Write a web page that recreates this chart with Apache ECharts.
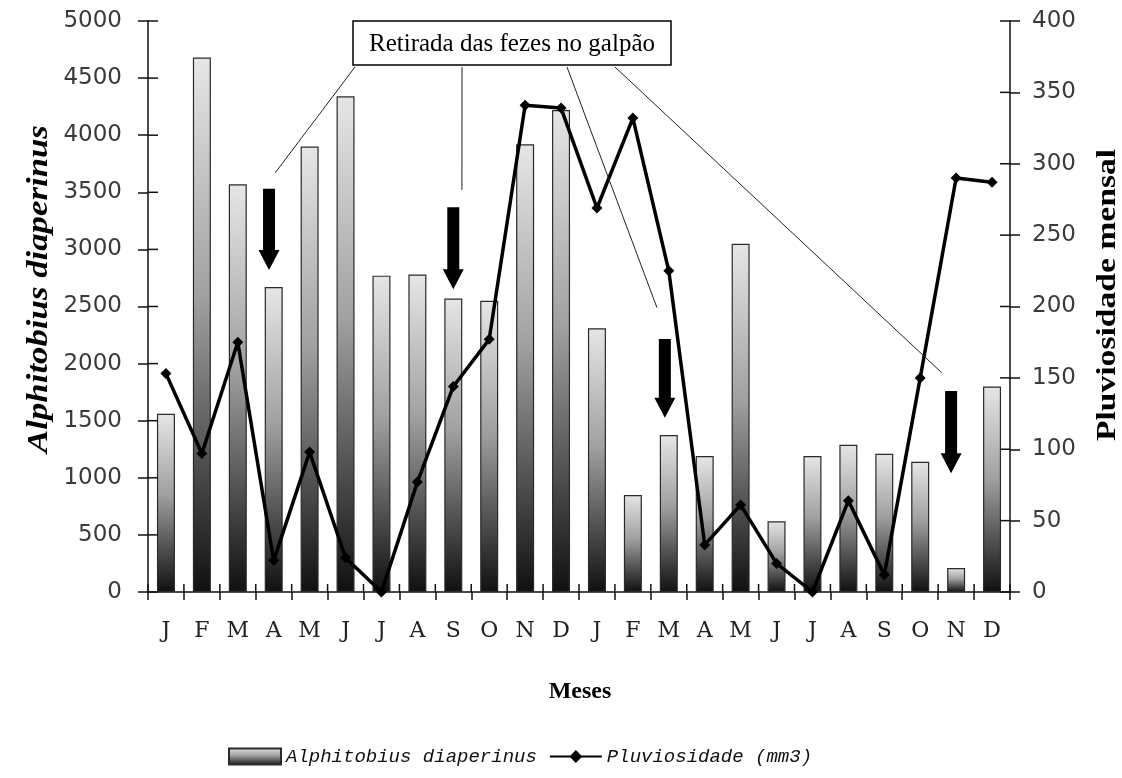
<!DOCTYPE html>
<html>
<head>
<meta charset="utf-8">
<script src="https://cdn.jsdelivr.net/npm/echarts@6/dist/echarts.min.js"></script>
<style>
  html, body { margin: 0; padding: 0; background: #fff; }
  #chart { width: 1122px; height: 778px; }
</style>
</head>
<body>
<div id="chart"></div>
<script>
// Months over two years (Jan..Dec, Jan..Dec)
const months = ['J','F','M','A','M','J','J','A','S','O','N','D',
                'J','F','M','A','M','J','J','A','S','O','N','D'];

// Monthly counts of Alphitobius diaperinus (left axis)
const beetles = [1560, 4680, 3570, 2670, 3900, 4340, 2770, 2780, 2570, 2550, 3920, 4220,
                 2310, 850, 1375, 1190, 3050, 620, 1190, 1290, 1210, 1140, 210, 1800];

// Monthly rainfall (right axis)
const rain = [153, 97, 175, 22, 98, 24, 0, 77, 144, 177, 341, 339,
              269, 332, 225, 33, 61, 20, 0, 64, 12, 150, 290, 287];

// Axis ranges and tick values
const leftMax = 5000, leftStep = 500;
const rightMax = 400, rightStep = 50;
const leftTicks = [0, 500, 1000, 1500, 2000, 2500, 3000, 3500, 4000, 4500, 5000];
const rightTicks = [0, 50, 100, 150, 200, 250, 300, 350, 400];

// Manure-removal events: month index (fractional) and arrow span on the left axis
const removals = [
  { at: 2.87,  from: 3530, to: 2820 },
  { at: 8.0,   from: 3370, to: 2650 },
  { at: 13.89, from: 2215, to: 1525 },
  { at: 21.86, from: 1760, to: 1040 }
];
// Callout leader ends (month index, left-axis value)
const leaderEnds = [
  { at: 3.04,  val: 3670 },
  { at: 8.24,  val: 3520 },
  { at: 13.67, val: 2490 },
  { at: 21.6,  val: 1920 }
];
const calloutText = 'Retirada das fezes no galpão';

// Plot area
const G = { left: 148, top: 21, right: 112, bottom: 186 };
const W = 1122, H = 778;
const plotW = W - G.left - G.right;
const plotH = H - G.top - G.bottom;
const band = plotW / months.length;
function px(idx, val) {
  return [G.left + (idx + 0.5) * band, G.top + plotH * (1 - val / leftMax)];
}

const chart = echarts.init(document.getElementById('chart'), null, { renderer: 'canvas' });

const tickFont = { fontFamily: 'DejaVu Sans', fontSize: 23, color: '#3a3a3a', formatter: v => String(v) };
const axisLineStyle = { color: '#111', width: 1.5 };
const tickLine = { color: '#111', width: 1.5 };
const tickStyle = { stroke: '#111', lineWidth: 1.5 };

// Arrow polygons
const arrowEls = removals.map(r => {
  const top = px(r.at, r.from), tip = px(r.at, r.to);
  const cx = top[0], shaftW = 12, headW = 21, headL = 20;
  const yb = tip[1] - headL;
  return {
    type: 'polygon',
    shape: { points: [
      [cx - shaftW / 2, top[1]], [cx + shaftW / 2, top[1]], [cx + shaftW / 2, yb],
      [cx + headW / 2, yb], [cx, tip[1]], [cx - headW / 2, yb], [cx - shaftW / 2, yb]
    ] },
    style: { fill: '#000' },
    z: 100
  };
});

// Callout box and its leader lines
const box = { x: 353, y: 21, w: 318, h: 44 };
const leaderStarts = [[355, box.y + box.h + 2], [462, box.y + box.h + 2], [567, box.y + box.h + 2], [615, box.y + box.h + 2]];
const leaderEls = leaderEnds.map((e, i) => {
  const p = px(e.at, e.val);
  return {
    type: 'line',
    shape: { x1: leaderStarts[i][0], y1: leaderStarts[i][1], x2: p[0], y2: p[1] },
    style: { stroke: '#222', lineWidth: 1 },
    z: 100
  };
});

// Inner halves of the crossing axis ticks, placed through the axis scales
function innerYTicks(side) {
  return function (params, api) {
    const cs = params.coordSys;
    const y = api.coord([0, api.value(1)])[1];
    const x0 = side === 'left' ? cs.x : cs.x + cs.width;
    const x1 = side === 'left' ? x0 + 10 : x0 - 10;
    return { type: 'line', shape: { x1: x0, y1: y, x2: x1, y2: y }, style: tickStyle };
  };
}
function innerXTicks(params, api) {
  const cs = params.coordSys;
  const x = cs.x + api.value(0) * cs.width / months.length;
  const y = cs.y + cs.height;
  return { type: 'line', shape: { x1: x, y1: y, x2: x, y2: y - 8 }, style: tickStyle };
}
const boundaries = [];
for (let k = 0; k <= months.length; k++) boundaries.push([k, 0]);

chart.setOption({
  animation: false,
  backgroundColor: '#fff',
  grid: { left: G.left, top: G.top, right: G.right, bottom: G.bottom, containLabel: false },
  legend: {
    left: 223, top: 742,
    itemWidth: 52, itemHeight: 16, itemGap: 12,
    textStyle: { fontFamily: 'Liberation Mono', fontStyle: 'italic', fontSize: 19, color: '#111' },
    data: [
      { name: 'Alphitobius diaperinus', icon: 'rect' },
      { name: 'Pluviosidade (mm3)' }
    ]
  },
  xAxis: {
    type: 'category', data: months, position: 'bottom',
    axisLine: { lineStyle: axisLineStyle },
    axisTick: { show: true, inside: false, length: 8, lineStyle: tickLine },
    axisLabel: { fontFamily: 'DejaVu Serif', fontSize: 22, color: '#222', margin: 28, interval: 0 },
    splitLine: { show: false }
  },
  yAxis: [
    {
      type: 'value', position: 'left', min: 0, max: leftMax, interval: leftStep,
      axisLine: { show: true, lineStyle: axisLineStyle },
      axisTick: { show: true, length: 10, lineStyle: tickLine },
      axisLabel: Object.assign({ margin: 26 }, tickFont),
      splitLine: { show: false }
    },
    {
      type: 'value', position: 'right', min: 0, max: rightMax, interval: rightStep,
      axisLine: { show: true, lineStyle: axisLineStyle },
      axisTick: { show: true, length: 10, lineStyle: tickLine },
      axisLabel: Object.assign({ margin: 22 }, tickFont),
      splitLine: { show: false }
    }
  ],
  series: [
    {
      name: 'Alphitobius diaperinus',
      type: 'bar',
      xAxisIndex: 0, yAxisIndex: 0,
      data: beetles,
      barWidth: 18,
      itemStyle: {
        color: new echarts.graphic.LinearGradient(0, 0, 0, 1, [
          { offset: 0, color: '#e6e6e6' },
          { offset: 0.45, color: '#a0a0a0' },
          { offset: 1, color: '#101010' }
        ]),
        borderColor: '#2a2a2a',
        borderWidth: 1.2
      },
      z: 2
    },
    {
      name: 'Pluviosidade (mm3)',
      type: 'line',
      xAxisIndex: 0, yAxisIndex: 1,
      data: rain,
      symbol: 'diamond', symbolSize: 11,
      lineStyle: { color: '#000', width: 3.5 },
      itemStyle: { color: '#000' },
      z: 5
    },
    {
      type: 'custom', name: 'ticksLeft', xAxisIndex: 0, yAxisIndex: 0, silent: true, clip: false,
      data: leftTicks.map(v => [0, v]), renderItem: innerYTicks('left'), z: 6
    },
    {
      type: 'custom', name: 'ticksRight', xAxisIndex: 0, yAxisIndex: 1, silent: true, clip: false,
      data: rightTicks.map(v => [0, v]), renderItem: innerYTicks('right'), z: 6
    },
    {
      type: 'custom', name: 'ticksBottom', xAxisIndex: 0, yAxisIndex: 0, silent: true, clip: false,
      data: boundaries, renderItem: innerXTicks, z: 6
    }
  ],
  graphic: [
    ...leaderEls,
    ...arrowEls,
    {
      type: 'rect',
      shape: { x: box.x, y: box.y, width: box.w, height: box.h },
      style: { fill: '#fff', stroke: '#000', lineWidth: 1.5 },
      z: 110
    },
    {
      type: 'text',
      x: box.x + box.w / 2, y: box.y + box.h / 2 + 1,
      style: { text: calloutText, fontFamily: 'Liberation Serif', fontSize: 25, fill: '#000',
               align: 'center', verticalAlign: 'middle' },
      z: 111
    },
    {
      type: 'text',
      x: 40, y: 289, rotation: Math.PI / 2, scaleX: 1.2,
      style: { text: 'Alphitobius diaperinus', fontFamily: 'Liberation Serif', fontWeight: 'bold',
               fontStyle: 'italic', fontSize: 29, fill: '#000', align: 'center', verticalAlign: 'middle' },
      z: 100
    },
    {
      type: 'text',
      x: 1108, y: 295, rotation: Math.PI / 2, scaleX: 1.2,
      style: { text: 'Pluviosidade mensal', fontFamily: 'Liberation Serif', fontWeight: 'bold',
               fontSize: 28, fill: '#000', align: 'center', verticalAlign: 'middle' },
      z: 100
    },
    {
      type: 'text',
      x: 580, y: 692,
      style: { text: 'Meses', fontFamily: 'Liberation Serif', fontWeight: 'bold',
               fontSize: 24, fill: '#000', align: 'center', verticalAlign: 'middle' },
      z: 100
    }
  ]
});
</script>
</body>
</html>
